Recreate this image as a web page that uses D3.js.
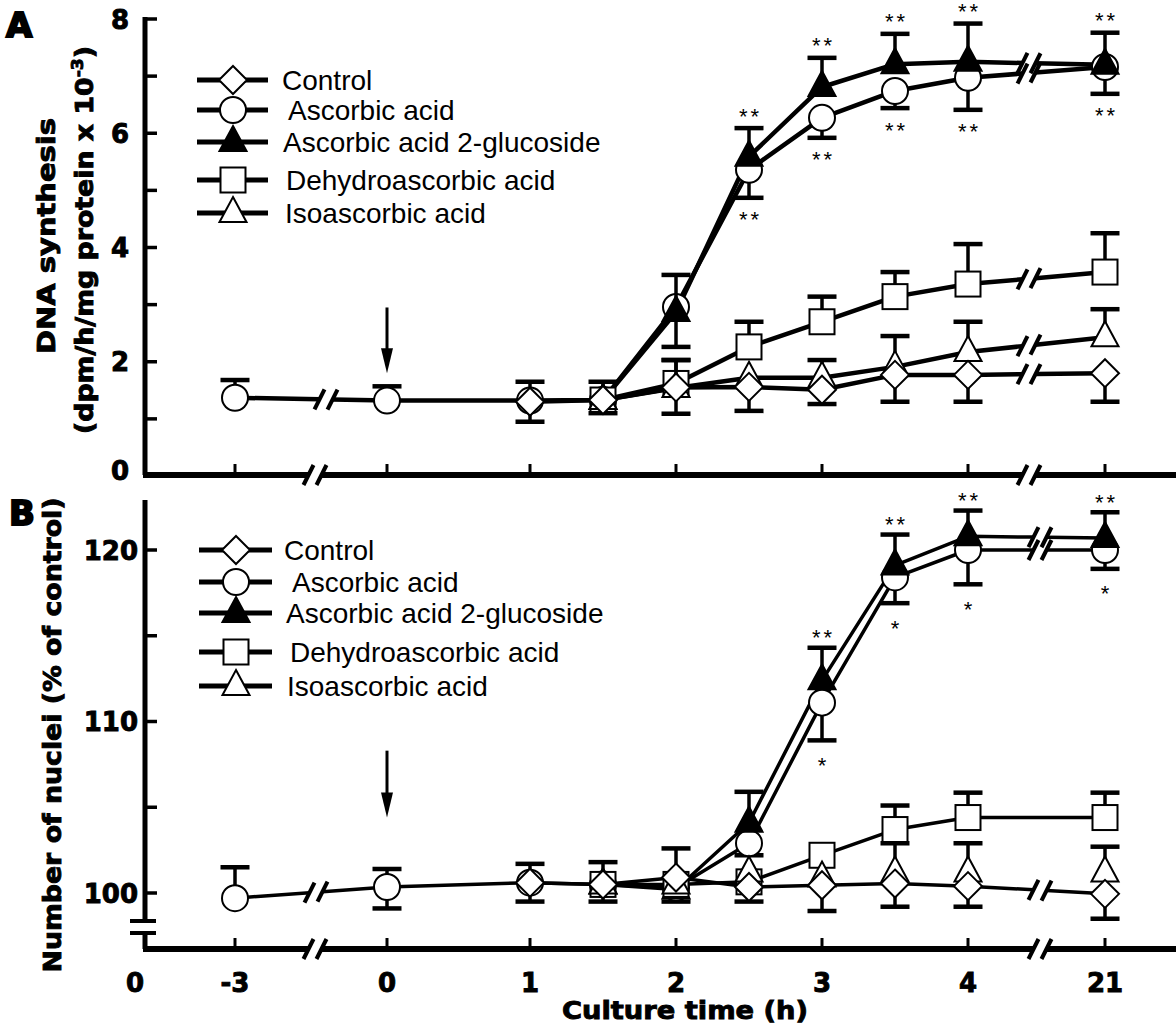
<!DOCTYPE html>
<html><head><meta charset="utf-8">
<script src="https://cdn.jsdelivr.net/npm/d3@7"></script>
<style>
body{margin:0;background:#fff;}
svg{display:block;background:#fff;}
</style></head><body>
<svg id="chart" width="1176" height="1028"></svg>
<script>
// ---------------- DATA ----------------
const xTimes = [-3, 0, 1, 1.5, 2, 2.5, 3, 3.5, 4, 21];
const xTickValues = [-3, 0, 1, 2, 3, 4, 21];
const xTickLabels = ["-3", "0", "1", "2", "3", "4", "21"];
const xOriginLabel = "0";
const xTitle = "Culture time (h)";
const seriesNames = ["Control", "Ascorbic acid", "Ascorbic acid 2-glucoside", "Dehydroascorbic acid", "Isoascorbic acid"];

// Panel A: DNA synthesis (dpm/h/mg protein x 10^-3)
const dnaControl   = [null, null, 1.30, 1.33, 1.55, 1.56, 1.51, 1.77, 1.77, 1.80];
const dnaControlLo = [null, null, 0.95, 1.10, 1.09, 1.14, 1.26, 1.30, 1.30, 1.30];
const dnaAA        = [1.37, 1.32, 1.32, 1.33, 2.96, 5.36, 6.27, 6.74, 6.97, 7.16];
const dnaAAHi      = [1.68, 1.57, 1.65, null, null, null, null, null, null, null];
const dnaAALo      = [null, null, null, null, 2.26, 4.87, 5.92, 6.44, 6.41, 6.69];
const dnaAA2G      = [null, null, null, 1.33, 2.87, 5.59, 6.81, 7.21, 7.25, 7.20];
const dnaAA2GHi    = [null, null, null, 1.65, 3.52, 6.09, 7.32, 7.74, 7.92, 7.76];
const dnaDHA       = [null, null, null, 1.33, 1.62, 2.26, 2.70, 3.14, 3.36, 3.57];
const dnaDHAHi     = [null, null, null, null, 2.03, 2.70, 3.14, 3.57, 4.06, 4.25];
const dnaIso       = [null, null, null, 1.33, 1.54, 1.72, 1.72, 1.91, 2.17, 2.43];
const dnaIsoHi     = [null, null, null, null, 2.03, null, 2.03, 2.45, 2.70, 2.92];
const dnaSigHi     = [null, null, null, null, null, "**", "**", "**", "**", "**"];
const dnaSigLo     = [null, null, null, null, null, "**", "**", "**", "**", "**"];
const dnaTicksMajor = [0, 2, 4, 6, 8];
const dnaTickLabels = ["0", "2", "4", "6", "8"];
const dnaTicksMinor = [1, 3, 5, 7];
const dnaArrow = [2.95, 1.80];   // treatment arrow at t = 0 (from, to)

// Panel B: Number of nuclei (% of control)
const nucControl   = [null, null, 100.6, 100.5, 100.9, 100.35, 100.45, 100.55, 100.4, 99.95];
const nucControlHi = [null, null, null, null, 102.6, null, null, null, null, null];
const nucControlLo = [null, null, 99.5, 99.5, null, 99.5, 98.95, 99.2, 99.2, 98.5];
const nucAA        = [99.7, 100.35, 100.6, 100.5, 100.3, 102.9, 111.1, 118.4, 120.0, 120.0];
const nucAAHi      = [101.5, 101.4, 101.7, 101.8, null, null, null, null, null, null];
const nucAALo      = [null, 99.1, null, null, 99.5, 102.2, 108.9, 116.9, 118.0, 118.9];
const nucAA2G      = [null, null, null, 100.5, 100.2, 104.1, 112.4, 119.1, 120.8, 120.7];
const nucAA2GHi    = [null, null, null, null, null, 105.9, 114.3, 120.9, 122.3, 122.2];
const nucDHA       = [null, null, null, 100.5, 100.5, 100.65, 102.2, 103.7, 104.4, 104.4];
const nucDHAHi     = [null, null, null, null, null, null, null, 105.1, 105.85, 105.85];
const nucIso       = [null, null, null, 100.5, 100.5, 101.2, 100.9, 101.2, 101.2, 101.2];
const nucIsoHi     = [null, null, null, null, null, null, null, 102.9, 102.9, 102.7];
const nucSigHi     = [null, null, null, null, null, null, "**", "**", "**", "**"];
const nucSigLo     = [null, null, null, null, null, null, "*", "*", "*", "*"];
const nucTicksMajor = [100, 110, 120];
const nucTickLabels = ["100", "110", "120"];
const nucTicksMinor = [105, 115];
const nucArrow = [108.3, 104.4];

// ---------------- STYLES / LAYOUT ----------------
const FB = "'DejaVu Sans', 'Liberation Sans', sans-serif";
const FR = "'Liberation Sans', Arial, sans-serif";
const seriesStyle = [
  {shape: "diamond", fill: "#fff"},
  {shape: "circle", fill: "#fff"},
  {shape: "triangle", fill: "#000"},
  {shape: "square", fill: "#fff"},
  {shape: "triangle", fill: "#fff"}
];

const svg = d3.select("#chart");
const x = d3.scaleLinear().domain([-3, 0, 1, 4, 21]).range([235, 387, 530, 968, 1105]);

function marker(g, idx, cx, cy) {
  const st = seriesStyle[idx];
  let el;
  if (st.shape === "circle") {
    el = g.append("circle").attr("cx", cx).attr("cy", cy).attr("r", 13);
  } else if (st.shape === "square") {
    el = g.append("rect").attr("x", cx - 12.5).attr("y", cy - 12.5).attr("width", 25).attr("height", 25);
  } else if (st.shape === "diamond") {
    el = g.append("path").attr("d", `M${cx},${cy - 14}L${cx + 14},${cy}L${cx},${cy + 14}L${cx - 14},${cy}Z`);
  } else {
    el = g.append("path").attr("d", `M${cx},${cy - 16}L${cx + 13.5},${cy + 9}L${cx - 13.5},${cy + 9}Z`);
  }
  el.attr("fill", st.fill).attr("stroke", "#000").attr("stroke-width", 2).attr("stroke-linejoin", "miter");
}

function slash(g, sx, sy, w) {
  g.append("line").attr("x1", sx - 5).attr("y1", sy + 10).attr("x2", sx + 5).attr("y2", sy - 10)
    .attr("stroke", "#000").attr("stroke-width", w || 4);
}

const panels = [
  {
    label: "A", labelPos: [6, 37],
    y: d3.scaleLinear().domain([0, 8]).range([476, 19]),
    axisY: 475, yTop: 17, yBreak: null,
    major: dnaTicksMajor, majorLabels: dnaTickLabels, minor: dnaTicksMinor, tickLabelX: 129,
    axisBreaks: [315, 1029], lineBreaks: [326, 1029], lineWidth: 4.5,
    series: [
      {idx: 1, v: dnaAA, hi: dnaAAHi, lo: dnaAALo},
      {idx: 2, v: dnaAA2G, hi: dnaAA2GHi},
      {idx: 3, v: dnaDHA, hi: dnaDHAHi},
      {idx: 4, v: dnaIso, hi: dnaIsoHi},
      {idx: 0, v: dnaControl, lo: dnaControlLo}
    ],
    sigHi: dnaSigHi, sigHiRef: dnaAA2GHi, sigLo: dnaSigLo, sigLoRef: dnaAALo,
    sigHiOff: -4.5, sigLoOff: 29.5,
    legendY: [80, 110, 142, 180, 213], legendLine: [197, 268], legendMX: 233, legendTX: 282,
    legendDX: [0, 6, 1, 4, 3],
    arrow: dnaArrow,
    titles: [
      {text: "DNA synthesis", x: 55, y: 236, len: 236},
      {text: "(dpm/h/mg protein x 10", sup: "-3", tail: ")", x: 93, y: 240, len: 388}
    ]
  },
  {
    label: "B", labelPos: [9, 525],
    y: d3.scaleLinear().domain([100, 120]).range([893, 550]),
    axisY: 949, yTop: 500, yBreak: [921, 933],
    major: nucTicksMajor, majorLabels: nucTickLabels, minor: nucTicksMinor, tickLabelX: 138,
    axisBreaks: [315, 1040], lineBreaks: [316, 1040], lineWidth: 3.5,
    series: [
      {idx: 1, v: nucAA, hi: nucAAHi, lo: nucAALo},
      {idx: 2, v: nucAA2G, hi: nucAA2GHi},
      {idx: 3, v: nucDHA, hi: nucDHAHi, noBreakMark: true},
      {idx: 4, v: nucIso, hi: nucIsoHi, noLine: true},
      {idx: 0, v: nucControl, hi: nucControlHi, lo: nucControlLo}
    ],
    sigHi: nucSigHi, sigHiRef: nucAA2GHi, sigLo: nucSigLo, sigLoRef: nucAALo,
    sigHiOff: -2.5, sigLoOff: 32.5,
    legendY: [550, 582, 613, 652, 686], legendLine: [199, 272], legendMX: 236, legendTX: 284,
    legendDX: [0, 8, 2, 6, 3],
    arrow: nucArrow,
    titles: [
      {text: "Number of nuclei (% of control)", x: 61, y: 735, len: 475}
    ]
  }
];

panels.forEach(p => {
  const g = svg.append("g");
  const y = p.y;
  const AX = 145;

  // panel letter
  g.append("text").attr("x", p.labelPos[0]).attr("y", p.labelPos[1]).text(p.label)
    .attr("font-family", FB).attr("font-weight", "bold").attr("font-size", 34)
    .attr("stroke", "#000").attr("stroke-width", 2);

  // y axis
  if (p.yBreak) {
    g.append("line").attr("x1", AX).attr("x2", AX).attr("y1", p.yTop).attr("y2", p.yBreak[0]).attr("stroke", "#000").attr("stroke-width", 5);
    g.append("line").attr("x1", AX).attr("x2", AX).attr("y1", p.yBreak[1]).attr("y2", p.axisY).attr("stroke", "#000").attr("stroke-width", 5);
    p.yBreak.forEach(by => g.append("line").attr("x1", 130).attr("x2", 156).attr("y1", by).attr("y2", by).attr("stroke", "#000").attr("stroke-width", 4));
  } else {
    g.append("line").attr("x1", AX).attr("x2", AX).attr("y1", p.yTop).attr("y2", p.axisY).attr("stroke", "#000").attr("stroke-width", 5);
  }
  p.major.concat(p.minor).forEach(v => {
    if (y(v) > p.axisY - 4) return;
    g.append("line").attr("x1", AX).attr("x2", AX + 12).attr("y1", y(v)).attr("y2", y(v)).attr("stroke", "#000").attr("stroke-width", 3.5);
  });
  p.major.forEach((v, i) => {
    g.append("text").attr("x", p.tickLabelX).attr("y", Math.min(y(v), p.axisY - 5) + 9.5).attr("text-anchor", "end")
      .text(p.majorLabels[i]).attr("font-family", FB).attr("font-weight", "bold").attr("font-size", 26)
      .attr("stroke", "#000").attr("stroke-width", 0.9);
  });

  // x axis with breaks
  const segs = [[AX - 2, p.axisBreaks[0] - 6.5], [p.axisBreaks[0] + 6.5, p.axisBreaks[1] - 6.5], [p.axisBreaks[1] + 6.5, 1176]];
  segs.forEach(s => g.append("line").attr("x1", s[0]).attr("x2", s[1]).attr("y1", p.axisY).attr("y2", p.axisY).attr("stroke", "#000").attr("stroke-width", 6));
  p.axisBreaks.forEach(bx => { slash(g, bx - 6.5, p.axisY, 4); slash(g, bx + 6.5, p.axisY, 4); });
  xTickValues.forEach(t => {
    g.append("line").attr("x1", x(t)).attr("x2", x(t)).attr("y1", p.axisY - 2).attr("y2", p.axisY - 11).attr("stroke", "#000").attr("stroke-width", 3);
  });

  // titles (rotated)
  p.titles.forEach(tt => {
    const t = g.append("text").attr("transform", `translate(${tt.x},${tt.y}) rotate(-90)`)
      .attr("text-anchor", "middle").attr("font-family", FB).attr("font-weight", "bold").attr("font-size", 25)
      .attr("stroke", "#000").attr("stroke-width", 0.9)
      .attr("textLength", tt.len).attr("lengthAdjust", "spacingAndGlyphs");
    t.append("tspan").text(tt.text);
    if (tt.sup) {
      t.append("tspan").attr("dy", -10).attr("font-size", 16).text(tt.sup);
      t.append("tspan").attr("dy", 10).text(tt.tail);
    }
  });

  // legend
  seriesNames.forEach((name, i) => {
    const ly = p.legendY[i];
    g.append("line").attr("x1", p.legendLine[0]).attr("x2", p.legendLine[1]).attr("y1", ly).attr("y2", ly).attr("stroke", "#000").attr("stroke-width", 5);
    marker(g, i, p.legendMX, ly);
    g.append("text").attr("x", p.legendTX + p.legendDX[i]).attr("y", ly + 10).text(name)
      .attr("font-family", FR).attr("font-size", 28).attr("fill", "#000");
  });

  // data lines
  const line = d3.line();
  p.series.forEach(s => {
    if (s.noLine) return;
    const pts = [];
    xTimes.forEach((t, i) => { if (s.v[i] != null) pts.push([x(t), y(s.v[i])]); });
    const polys = [[pts[0]]];
    const marks = [];
    for (let i = 1; i < pts.length; i++) {
      const a = pts[i - 1], b = pts[i];
      const bx = p.lineBreaks.find(q => a[0] < q && b[0] > q);
      if (bx !== undefined && !s.noBreakMark) {
        const f = xx => a[1] + (b[1] - a[1]) * (xx - a[0]) / (b[0] - a[0]);
        const xl = bx - 6.5, xr = bx + 6.5;
        polys[polys.length - 1].push([xl, f(xl)]);
        polys.push([[xr, f(xr)], b]);
        marks.push([xl, f(xl)], [xr, f(xr)]);
      } else {
        polys[polys.length - 1].push(b);
      }
    }
    polys.forEach(pl => g.append("path").attr("d", line(pl)).attr("fill", "none").attr("stroke", "#000")
      .attr("stroke-width", p.lineWidth).attr("stroke-linejoin", "round"));
    marks.forEach(m => slash(g, m[0], m[1], 4));
  });

  // error bars + markers
  p.series.forEach(s => {
    xTimes.forEach((t, i) => {
      if (s.v[i] == null) return;
      const cx = x(t), cy = y(s.v[i]);
      [s.hi, s.lo].forEach(arr => {
        if (!arr || arr[i] == null) return;
        const ey = y(arr[i]);
        g.append("line").attr("x1", cx).attr("x2", cx).attr("y1", cy).attr("y2", ey).attr("stroke", "#000").attr("stroke-width", 3.5);
        g.append("line").attr("x1", cx - 14.5).attr("x2", cx + 14.5).attr("y1", ey).attr("y2", ey).attr("stroke", "#000").attr("stroke-width", 4.5);
      });
    });
    xTimes.forEach((t, i) => {
      if (s.v[i] == null) return;
      marker(g, s.idx, x(t), y(s.v[i]));
    });
  });

  // significance marks
  xTimes.forEach((t, i) => {
    if (p.sigHi[i]) g.append("text").attr("x", x(t) + 1.5).attr("y", y(p.sigHiRef[i]) + p.sigHiOff).attr("text-anchor", "middle")
      .attr("font-family", FR).attr("font-size", 22).attr("letter-spacing", 3).text(p.sigHi[i]);
    if (p.sigLo[i]) g.append("text").attr("x", x(t) + (p.sigLo[i].length > 1 ? 1.5 : 0)).attr("y", y(p.sigLoRef[i]) + p.sigLoOff).attr("text-anchor", "middle")
      .attr("font-family", FR).attr("font-size", 22).attr("letter-spacing", p.sigLo[i].length > 1 ? 3 : 0).text(p.sigLo[i]);
  });

  // treatment arrow at t = 0
  const axp = x(0), y1 = y(p.arrow[0]), y2 = y(p.arrow[1]);
  g.append("line").attr("x1", axp).attr("x2", axp).attr("y1", y1).attr("y2", y2 - 20).attr("stroke", "#000").attr("stroke-width", 3);
  g.append("path").attr("d", `M${axp},${y2}L${axp - 6},${y2 - 25}L${axp + 6},${y2 - 25}Z`).attr("fill", "#000");
});

// x tick labels (bottom panel only)
const bottomY = 992;
xTickValues.forEach((t, i) => {
  svg.append("text").attr("x", x(t)).attr("y", bottomY).attr("text-anchor", "middle").text(xTickLabels[i])
    .attr("font-family", FB).attr("font-weight", "bold").attr("font-size", 26).attr("stroke", "#000").attr("stroke-width", 0.9);
});
svg.append("text").attr("x", 135).attr("y", bottomY).attr("text-anchor", "middle").text(xOriginLabel)
  .attr("font-family", FB).attr("font-weight", "bold").attr("font-size", 26).attr("stroke", "#000").attr("stroke-width", 0.9);
svg.append("text").attr("x", 685).attr("y", 1019).attr("text-anchor", "middle").text(xTitle)
  .attr("font-family", FB).attr("font-weight", "bold").attr("font-size", 25).attr("stroke", "#000").attr("stroke-width", 0.9)
  .attr("textLength", 246).attr("lengthAdjust", "spacingAndGlyphs");
</script></body></html>
